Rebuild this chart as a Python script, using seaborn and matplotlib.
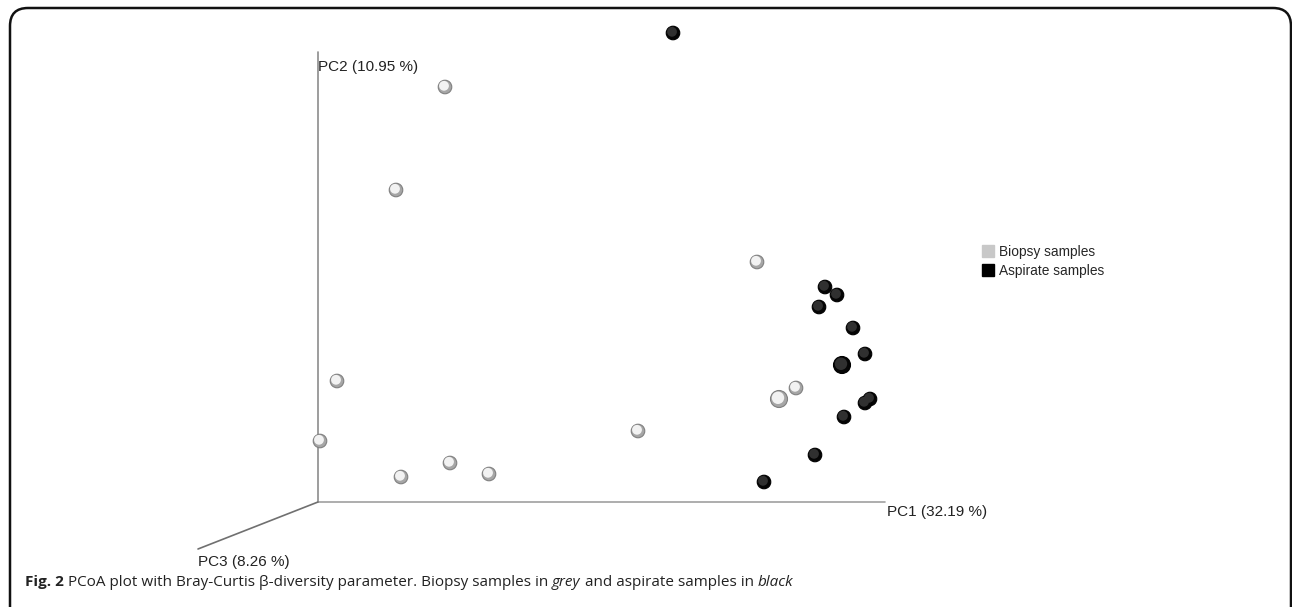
import matplotlib
matplotlib.use("Agg")
import matplotlib.pyplot as plt
import matplotlib.transforms as mtransforms
from matplotlib.patches import FancyBboxPatch
from matplotlib.lines import Line2D
import seaborn as sns
import pandas as pd

# Coordonnées projetées (plan de l'image, origine = coin des axes)
biopsy_x = [127, 78, 439, 19, 2, 83, 132, 171, 320, 478, 461]
biopsy_y = [415, 312, 240, 121, 61, 25, 39, 28, 71, 114, 103]
biopsy_near = [0, 0, 0, 0, 0, 0, 0, 0, 0, 0, 1]

aspirate_x = [355, 507, 519, 501, 535, 547, 524, 552, 547, 526, 497, 446]
aspirate_y = [469, 215, 207, 195, 174, 148, 137, 103, 99, 85, 47, 20]
aspirate_near = [0, 0, 0, 0, 0, 0, 1, 0, 0, 0, 0, 0]

axis_labels = ["PC1 (32.19 %)", "PC2 (10.95 %)", "PC3 (8.26 %)"]
groups = ["Biopsy samples", "Aspirate samples"]

df = pd.concat([
    pd.DataFrame({"x": biopsy_x, "y": biopsy_y, "near": biopsy_near, "groupe": groups[0]}),
    pd.DataFrame({"x": aspirate_x, "y": aspirate_y, "near": aspirate_near, "groupe": groups[1]}),
], ignore_index=True)

sns.set_style("white")
plt.rcParams["font.family"] = ["Liberation Sans", "DejaVu Sans"]

fig = plt.figure(figsize=(12.92, 6.07), dpi=100)
ax = fig.add_axes([0, 0, 1, 1])
ax.set_xlim(-318, 974)
ax.set_ylim(-105, 502)
ax.axis("off")

# Axes 3D projetés
ax.plot([0, 0], [0, 450], color="#8c8c8c", lw=1.2)
ax.plot([0, 567], [0, 0], color="#a0a0a0", lw=1.2)
ax.plot([0, -120], [0, -47], color="#707070", lw=1.2)

ax.text(569, -10, axis_labels[0], fontsize=11, va="center", ha="left", color="#222")
ax.text(0, 435, axis_labels[1], fontsize=11, va="center", ha="left", color="#222")
ax.text(-120, -60, axis_labels[2], fontsize=11, va="center", ha="left", color="#222")

# Sphères : couche de base + reflet décalé
styles = {
    groups[0]: dict(base="#a6a6a6", edge="#808080", hl="#f2f2f2"),
    groups[1]: dict(base="#050505", edge="#000000", hl="#303030"),
}
for g, st in styles.items():
    sub = df[df["groupe"] == g]
    sizes = sub["near"].map({0: 95, 1: 150})
    sns.scatterplot(data=sub, x="x", y="y", s=sizes, color=st["base"],
                    edgecolor=st["edge"], linewidth=0.8, ax=ax, legend=False, zorder=3)
    hl_sizes = sub["near"].map({0: 50, 1: 80})
    sns.scatterplot(data=sub, x="x", y="y", s=hl_sizes, color=st["hl"],
                    edgecolor="none", linewidth=0, ax=ax, legend=False, zorder=4)
    coll = ax.collections[-1]
    coll.set_transform(coll.get_transform() + mtransforms.Affine2D().translate(-1, 1.2))

# Légende
handles = [Line2D([], [], marker="s", linestyle="none", markersize=8.5,
                  markerfacecolor=c, markeredgecolor=c) for c in ["#c8c8c8", "#000000"]]
ax.legend(handles, groups, loc="upper left", bbox_to_anchor=(976 / 1292, 1 - 238 / 607),
          bbox_transform=fig.transFigure, frameon=False, fontsize=9.9,
          handlelength=0.8, handletextpad=0.35, labelspacing=0.38, borderpad=0)

# Légende de figure
cap_y = -80
cap_font = ["Open Sans", "DejaVu Sans"]
parts = [("Fig. 2 ", "normal", "bold"),
         ("PCoA plot with Bray-Curtis β-diversity parameter. Biopsy samples in ", "normal", "normal"),
         ("grey", "italic", "normal"), (" and aspirate samples in ", "normal", "normal"),
         ("black", "italic", "normal")]
x = -293
for txt, style, weight in parts:
    t = ax.text(x, cap_y, txt, fontsize=11, va="center", style=style, fontweight=weight,
                family=cap_font, color="#222")
    fig.canvas.draw()
    b = t.get_window_extent()
    x = ax.transData.inverted().transform((b.x1, 0))[0]

# Cadre arrondi
frame = FancyBboxPatch((10, -40), 1281, 599 + 40, boxstyle="round,pad=0,rounding_size=18",
                       transform=mtransforms.IdentityTransform(), fill=False,
                       edgecolor="#111", lw=1.8)
fig.patches.append(frame)

fig.savefig("out.png", dpi=100)
